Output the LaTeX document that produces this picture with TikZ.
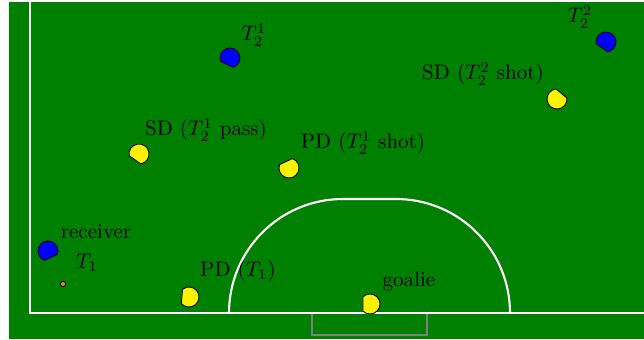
\documentclass[tikz,border=0pt]{standalone}
\usepackage{amsmath}
\definecolor{fieldgreen}{RGB}{0,128,0}
\tikzset{
  pics/robot/.style={code={\draw[fill=#1] (45:10) arc (45:315:10) -- cycle;}},
  fieldline/.style={white, line width=1pt},
}
\begin{document}
\begin{tikzpicture}[x=0.0167cm,y=-0.0167cm]
\useasboundingbox (0,0) rectangle (644,339);
\fill[fieldgreen] (9,2) rectangle (644,339);

% goal and field lines
\draw[gray, line width=1pt] (312,313) -- (312,335) -- (427,335) -- (427,313);
\draw[fieldline] (30,2) -- (30,313) -- (644,313);
\draw[fieldline] (229,313) arc (180:270:114) -- (396,199) arc (270:360:114);

% robots
\pic[rotate=-65] at (48,251) {robot=blue};
\pic[rotate=-115] at (230,58) {robot=blue};
\pic[rotate=-125] at (606,42) {robot=blue};
\pic[rotate=-125] at (139,154) {robot=yellow};
\pic[rotate=115] at (289,168) {robot=yellow};
\pic[rotate=175] at (189,297) {robot=yellow};
\pic[rotate=180] at (370,304) {robot=yellow};
\pic[rotate=50] at (557,99) {robot=yellow};
\draw[fill=orange] (63,284) circle (2.7);

% labels
\node (receiver) at (96,232) {receiver};
\node (tone) at (87,263) {$T_1$};
\node (pdtone) at (238,271) {PD ($T_1$)};
\node (goalie) at (409,281) {goalie};
\node (sdpass) at (206,130) {SD ($T_2^1$ pass)};
\node (pdshot) at (363,143) {PD ($T_2^1$ shot)};
\node (ttwoone) at (254,35) {$T_2^1$};
\node (sdshot) at (483,74) {SD ($T_2^2$ shot)};
\node (ttwotwo) at (580,17) {$T_2^2$};
\end{tikzpicture}
\end{document}
